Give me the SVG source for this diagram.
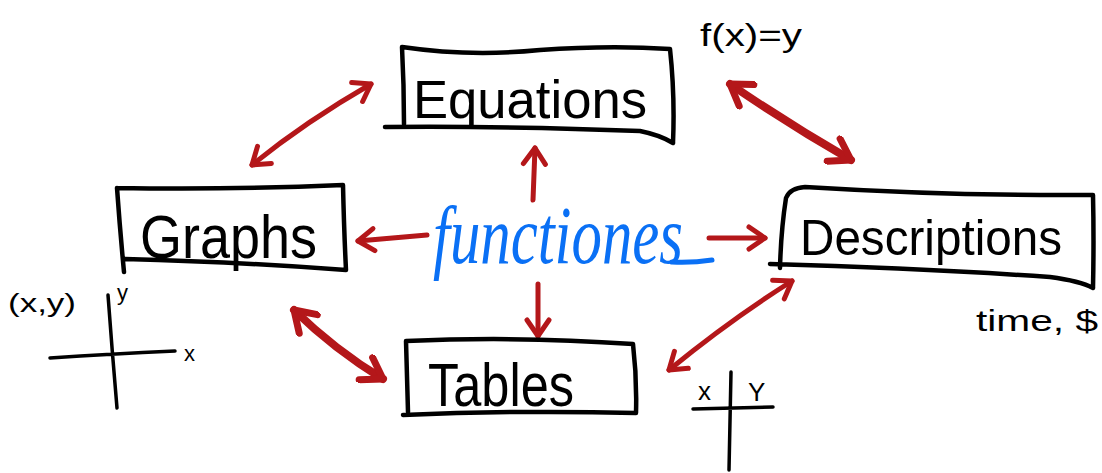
<svg xmlns="http://www.w3.org/2000/svg" width="1102" height="473" viewBox="0 0 1102 473">
<defs>
<style>
.box{fill:none;stroke:#000;stroke-width:4.5;stroke-linecap:round;stroke-linejoin:round}
.ink{fill:none;stroke:#000;stroke-width:3.5;stroke-linecap:round}
.lbl{font-family:"Liberation Sans",Arial,sans-serif;fill:#000}
.note{font-family:"Liberation Sans",Arial,sans-serif;fill:#000}
.arr{fill:none;stroke:#b4171a;stroke-width:5;stroke-linecap:round;stroke-linejoin:round}
.thick{stroke-width:8}
</style>
<marker id="ah" viewBox="-20 -14 24 28" refX="0" refY="0" markerWidth="24" markerHeight="28" markerUnits="userSpaceOnUse" orient="auto-start-reverse">
<path d="M-16,-11 L0,0 L-16,11" fill="none" stroke="#b4171a" stroke-width="5" stroke-linecap="round" stroke-linejoin="round"/>
</marker>
<marker id="ah2" viewBox="-24 -16 28 32" refX="0" refY="0" markerWidth="28" markerHeight="32" markerUnits="userSpaceOnUse" orient="auto-start-reverse">
<path d="M-20,-13 L0,0 L-20,13" fill="none" stroke="#b4171a" stroke-width="7" stroke-linecap="round" stroke-linejoin="round"/>
</marker>
</defs>
<rect width="1102" height="473" fill="#fff"/>

<g id="connectors">
<path class="arr" d="M252,165 Q305,122 371,84" marker-start="url(#ah)" marker-end="url(#ah)"/>
<path class="arr thick" d="M730,84 Q790,125 851,160" marker-start="url(#ah2)" marker-end="url(#ah2)"/>
<path class="arr" d="M533,200 L535,148" marker-end="url(#ah)"/>
<path class="arr" d="M427,235 L358,241" marker-end="url(#ah)"/>
<path class="arr" d="M709,238 L765,238" marker-end="url(#ah)"/>
<path class="arr" d="M538,284 L538,336" marker-end="url(#ah)"/>
<path class="arr thick" d="M294,310 Q335,350 383,379" marker-start="url(#ah2)" marker-end="url(#ah2)"/>
<path class="arr" d="M792,281 Q730,320 669,370" marker-start="url(#ah)" marker-end="url(#ah)"/>
</g>

<g id="center">
<text x="433" y="263" font-family="'Liberation Serif',serif" font-style="italic" font-size="82" fill="#0a70f5" textLength="250" lengthAdjust="spacingAndGlyphs">functiones</text>
<path d="M672,262 Q692,263 712,260" fill="none" stroke="#0a70f5" stroke-width="5" stroke-linecap="round"/>
</g>

<g id="equations">
<path class="box" d="M402,47 Q404,85 404,124 M402,47 Q470,57 540,50 Q610,45 670,49 Q675,95 673,143 M385,127 Q520,126 640,131 Q660,135 673,143"/>
<text class="lbl" x="413" y="118" font-size="54" textLength="234" lengthAdjust="spacingAndGlyphs">Equations</text>
</g>

<g id="graphs">
<path class="box" d="M117,188 Q120,230 124,272 M117,188 Q230,190 343,185 Q344,230 346,270 M125,259 Q240,262 346,270"/>
<text class="lbl" x="140" y="258" font-size="62" textLength="177" lengthAdjust="spacingAndGlyphs">Graphs</text>
</g>

<g id="descriptions">
<path class="box" d="M780,268 Q781,230 786,198 Q790,188 805,187 Q950,196 1093,195 Q1094,240 1093,288 M770,264 Q920,268 1050,277 Q1080,281 1093,288"/>
<text class="lbl" x="800" y="255" font-size="50" textLength="262" lengthAdjust="spacingAndGlyphs">Descriptions</text>
</g>

<g id="tables">
<path class="box" d="M406,341 Q407,376 408,412 M406,341 Q520,336 633,344 Q637,378 636,413 M403,415 Q520,410 636,413"/>
<text class="lbl" x="428" y="406" font-size="62" textLength="146" lengthAdjust="spacingAndGlyphs">Tables</text>
</g>

<g id="notes">
<text class="note" x="700" y="46" font-size="32" textLength="102" lengthAdjust="spacingAndGlyphs">f(x)=y</text>
<text class="note" x="976" y="331" font-size="30" textLength="122" lengthAdjust="spacingAndGlyphs">time, $</text>
<text class="note" x="8" y="312" font-size="26" textLength="68" lengthAdjust="spacingAndGlyphs">(x,y)</text>
<text class="note" x="117" y="300" font-size="22">y</text>
<text class="note" x="184" y="361" font-size="22">x</text>
<path class="ink" d="M108,295 Q112,350 117,408 M50,358 Q110,354 175,351"/>
<text class="note" x="698" y="400" font-size="26">x</text>
<text class="note" x="748" y="401" font-size="26">Y</text>
<path class="ink" d="M731,372 L729,470 M693,409 L773,407"/>
</g>
</svg>
